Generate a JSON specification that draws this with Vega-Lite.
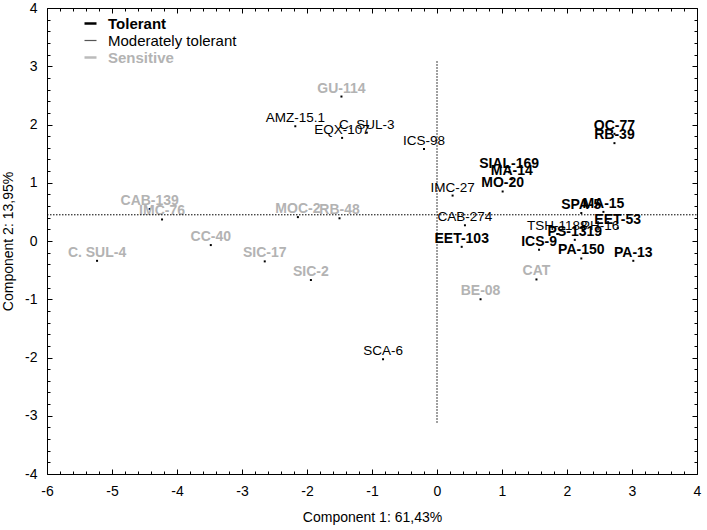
{
  "$schema": "https://vega.github.io/schema/vega-lite/v6.json",
  "width": 650,
  "height": 466,
  "autosize": {"type": "none"},
  "padding": {"left": 47, "top": 8, "right": 10, "bottom": 56},
  "config": {
    "view": {"stroke": "#000000", "strokeWidth": 1},
    "axis": {"labelFont": "Liberation Sans", "titleFont": "Liberation Sans", "labelFontSize": 14, "titleFontSize": 14, "titleFontWeight": "normal", "labelColor": "#000000", "titleColor": "#000000", "grid": false, "domain": false, "ticks": true, "tickColor": "#000000", "tickWidth": 1, "labelOverlap": false, "labelFlush": false}
  },
  "datasets": {
    "pts": [
      {"name": "OC-77", "grp": "Tolerant", "x": 2.73, "y": 1.84},
      {"name": "RB-39", "grp": "Tolerant", "x": 2.73, "y": 1.68},
      {"name": "SIAL-169", "grp": "Tolerant", "x": 1.11, "y": 1.18},
      {"name": "MA-14", "grp": "Tolerant", "x": 1.15, "y": 1.06},
      {"name": "MO-20", "grp": "Tolerant", "x": 1.01, "y": 0.85},
      {"name": "EET-103", "grp": "Tolerant", "x": 0.38, "y": -0.10},
      {"name": "SPA-5", "grp": "Tolerant", "x": 2.22, "y": 0.48},
      {"name": "MA-15", "grp": "Tolerant", "x": 2.56, "y": 0.50},
      {"name": "EET-53", "grp": "Tolerant", "x": 2.78, "y": 0.22},
      {"name": "PS-1319", "grp": "Tolerant", "x": 2.12, "y": 0.02},
      {"name": "ICS-9", "grp": "Tolerant", "x": 1.57, "y": -0.15},
      {"name": "PA-150", "grp": "Tolerant", "x": 2.22, "y": -0.30},
      {"name": "PA-13", "grp": "Tolerant", "x": 3.02, "y": -0.34},
      {"name": "AMZ-15.1", "grp": "Moderately tolerant", "x": -2.18, "y": 1.97},
      {"name": "EQX-107", "grp": "Moderately tolerant", "x": -1.46, "y": 1.77},
      {"name": "C. SUL-3", "grp": "Moderately tolerant", "x": -1.08, "y": 1.86},
      {"name": "ICS-98", "grp": "Moderately tolerant", "x": -0.20, "y": 1.58},
      {"name": "SCA-6", "grp": "Moderately tolerant", "x": -0.83, "y": -2.03},
      {"name": "IMC-27", "grp": "Moderately tolerant", "x": 0.24, "y": 0.78},
      {"name": "CAB-274", "grp": "Moderately tolerant", "x": 0.43, "y": 0.27},
      {"name": "TSH-1188", "grp": "Moderately tolerant", "x": 1.85, "y": 0.12},
      {"name": "PH-16", "grp": "Moderately tolerant", "x": 2.51, "y": 0.12},
      {"name": "GU-114", "grp": "Sensitive", "x": -1.47, "y": 2.48},
      {"name": "CAB-139", "grp": "Sensitive", "x": -4.42, "y": 0.55},
      {"name": "IMC-76", "grp": "Sensitive", "x": -4.23, "y": 0.37},
      {"name": "C. SUL-4", "grp": "Sensitive", "x": -5.23, "y": -0.34},
      {"name": "CC-40", "grp": "Sensitive", "x": -3.48, "y": -0.07},
      {"name": "SIC-17", "grp": "Sensitive", "x": -2.65, "y": -0.35},
      {"name": "SIC-2", "grp": "Sensitive", "x": -1.94, "y": -0.67},
      {"name": "MOC-2", "grp": "Sensitive", "x": -2.14, "y": 0.41},
      {"name": "RB-48", "grp": "Sensitive", "x": -1.50, "y": 0.39},
      {"name": "BE-08", "grp": "Sensitive", "x": 0.67, "y": -1.00},
      {"name": "CAT", "grp": "Sensitive", "x": 1.53, "y": -0.66}
    ],
    "lines": [
      {"x": -6, "x2": 4, "y": 0.45, "y2": 0.45},
      {"x": 0, "x2": 0, "y": -3.12, "y2": 3.1}
    ]
  },
  "layer": [
    {
      "data": {"name": "pts"},
      "encoding": {
        "x": {"field": "x", "type": "quantitative", "scale": {"domain": [-6, 4], "nice": false, "zero": false},
          "axis": {"orient": "bottom", "title": "Component 1: 61,43%", "titlePadding": 12, "labelPadding": 10, "tickSize": 5, "offset": -5,
            "values": [-6,-5,-4,-3,-2,-1,0,1,2,3,4],
            "labelExpr": "'' + datum.value"}},
        "y": {"field": "y", "type": "quantitative", "scale": {"domain": [-4, 4], "nice": false, "zero": false},
          "axis": {"orient": "left", "title": "Component 2: 13,95%", "titlePadding": 9, "labelPadding": 10, "tickSize": 5, "offset": -5,
            "values": [-4,-3,-2,-1,0,1,2,3,4],
            "labelExpr": "'' + datum.value"}}
      },
      "layer": [
        {"mark": {"type": "point", "shape": "square", "filled": true, "size": 4, "color": "#000000", "opacity": 1}},
        {
          "transform": [{"filter": "datum.grp !== 'Moderately tolerant'"}],
          "mark": {"type": "text", "font": "Liberation Sans", "fontSize": 14, "fontWeight": "bold", "align": "center", "baseline": "alphabetic", "dy": -4},
          "encoding": {
            "text": {"field": "name"},
            "color": {"field": "grp", "type": "nominal",
              "scale": {"domain": ["Tolerant", "Moderately tolerant", "Sensitive"], "range": ["#000000", "#000000", "#b3b3b3"]},
              "legend": {"title": null, "orient": "none", "legendX": 36, "legendY": 8, "symbolType": "stroke", "symbolSize": 144, "symbolStrokeWidth": 2.5,
                "labelFont": "Liberation Sans", "labelFontSize": 15, "labelOffset": 10, "rowPadding": 1,
                "encode": {
                  "labels": {"update": {"fontWeight": {"signal": "datum.value === 'Moderately tolerant' ? 'normal' : 'bold'"}, "fill": {"signal": "datum.value === 'Sensitive' ? '#b3b3b3' : '#000000'"}}},
                  "symbols": {"update": {"stroke": {"signal": "datum.value === 'Sensitive' ? '#bbbbbb' : (datum.value === 'Tolerant' ? '#000000' : '#555555')"}, "strokeWidth": {"signal": "datum.value === 'Moderately tolerant' ? 1.2 : 2.5"}}}
                }}}
          }
        },
        {
          "transform": [{"filter": "datum.grp === 'Moderately tolerant'"}],
          "mark": {"type": "text", "font": "Liberation Sans", "fontSize": 13.5, "fontWeight": "normal", "align": "center", "baseline": "alphabetic", "dy": -4},
          "encoding": {
            "text": {"field": "name"},
            "color": {"field": "grp", "type": "nominal"}
          }
        }
      ]
    },
    {
      "data": {"name": "lines"},
      "mark": {"type": "rule", "color": "#000000", "strokeWidth": 1, "strokeDash": [1.5, 1.5]},
      "encoding": {
        "x": {"field": "x", "type": "quantitative",
          "axis": {"orient": "top", "title": null, "labels": false, "tickSize": 5, "offset": -5, "values": [-6,-5,-4,-3,-2,-1,0,1,2,3,4]}},
        "x2": {"field": "x2"},
        "y": {"field": "y", "type": "quantitative",
          "axis": {"orient": "right", "title": null, "labels": false, "tickSize": 5, "offset": -5, "values": [-4,-3,-2,-1,0,1,2,3,4]}},
        "y2": {"field": "y2"}
      }
    },
    {
      "data": {"name": "lines"},
      "mark": {"type": "rule", "opacity": 0},
      "encoding": {
        "x": {"field": "x", "type": "quantitative",
          "axis": {"orient": "bottom", "title": null, "labels": false, "tickSize": 3, "offset": -3,
            "values": [-5.8,-5.6,-5.4,-5.2,-4.8,-4.6,-4.4,-4.2,-3.8,-3.6,-3.4,-3.2,-2.8,-2.6,-2.4,-2.2,-1.8,-1.6,-1.4,-1.2,-0.8,-0.6,-0.4,-0.2,0.2,0.4,0.6,0.8,1.2,1.4,1.6,1.8,2.2,2.4,2.6,2.8,3.2,3.4,3.6,3.8]}},
        "x2": {"field": "x2"},
        "y": {"field": "y", "type": "quantitative",
          "axis": {"orient": "left", "title": null, "labels": false, "tickSize": 3, "offset": -3,
            "values": [-3.8,-3.6,-3.4,-3.2,-2.8,-2.6,-2.4,-2.2,-1.8,-1.6,-1.4,-1.2,-0.8,-0.6,-0.4,-0.2,0.2,0.4,0.6,0.8,1.2,1.4,1.6,1.8,2.2,2.4,2.6,2.8,3.2,3.4,3.6,3.8]}},
        "y2": {"field": "y2"}
      }
    },
    {
      "data": {"name": "lines"},
      "mark": {"type": "rule", "opacity": 0},
      "encoding": {
        "x": {"field": "x", "type": "quantitative",
          "axis": {"orient": "top", "title": null, "labels": false, "tickSize": 3, "offset": -3,
            "values": [-5.8,-5.6,-5.4,-5.2,-4.8,-4.6,-4.4,-4.2,-3.8,-3.6,-3.4,-3.2,-2.8,-2.6,-2.4,-2.2,-1.8,-1.6,-1.4,-1.2,-0.8,-0.6,-0.4,-0.2,0.2,0.4,0.6,0.8,1.2,1.4,1.6,1.8,2.2,2.4,2.6,2.8,3.2,3.4,3.6,3.8]}},
        "x2": {"field": "x2"},
        "y": {"field": "y", "type": "quantitative",
          "axis": {"orient": "right", "title": null, "labels": false, "tickSize": 3, "offset": -3,
            "values": [-3.8,-3.6,-3.4,-3.2,-2.8,-2.6,-2.4,-2.2,-1.8,-1.6,-1.4,-1.2,-0.8,-0.6,-0.4,-0.2,0.2,0.4,0.6,0.8,1.2,1.4,1.6,1.8,2.2,2.4,2.6,2.8,3.2,3.4,3.6,3.8]}},
        "y2": {"field": "y2"}
      }
    }
  ],
  "resolve": {"axis": {"x": "independent", "y": "independent"}}
}
